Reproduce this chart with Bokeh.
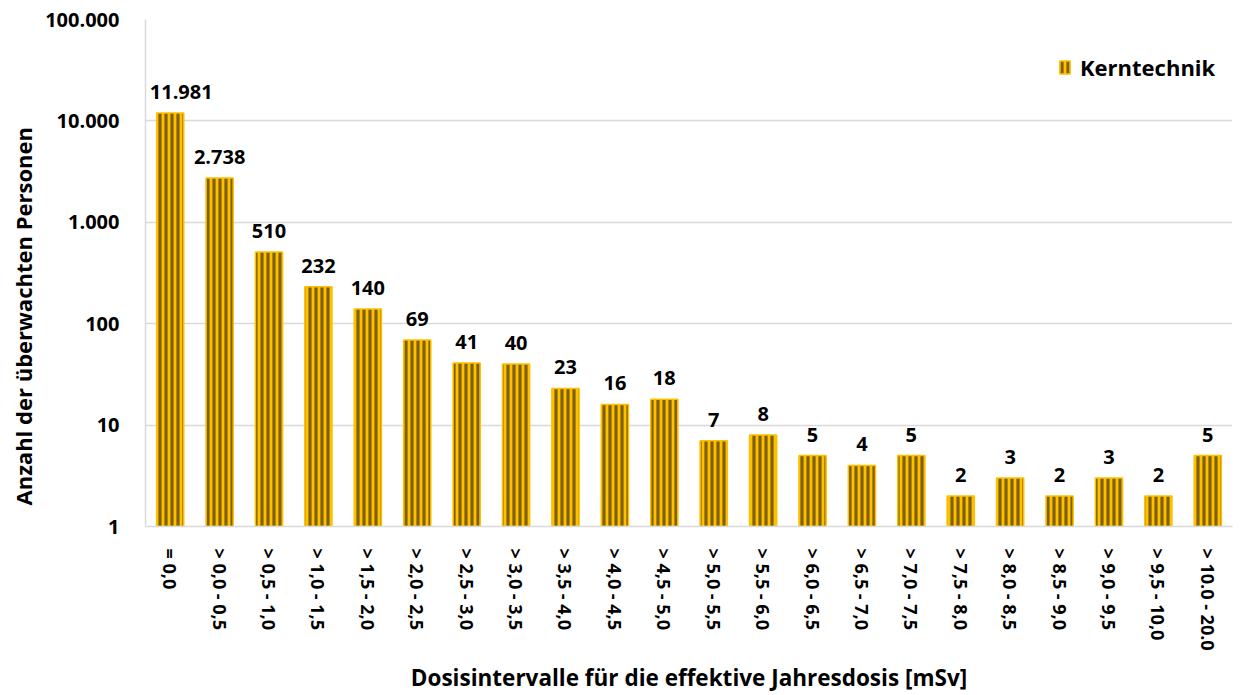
from bokeh.plotting import figure
from bokeh.models import ColumnDataSource, FixedTicker, CustomJSTickFormatter, Legend, LegendItem, Title
from bokeh.core.properties import value
from bokeh.embed import file_html
from bokeh.resources import INLINE

categories = ["= 0,0", "> 0,0 - 0,5", "> 0,5 - 1,0", "> 1,0 - 1,5", "> 1,5 - 2,0",
              "> 2,0 - 2,5", "> 2,5 - 3,0", "> 3,0 - 3,5", "> 3,5 - 4,0", "> 4,0 - 4,5",
              "> 4,5 - 5,0", "> 5,0 - 5,5", "> 5,5 - 6,0", "> 6,0 - 6,5", "> 6,5 - 7,0",
              "> 7,0 - 7,5", "> 7,5 - 8,0", "> 8,0 - 8,5", "> 8,5 - 9,0", "> 9,0 - 9,5",
              "> 9,5 - 10,0", "> 10.0 - 20.0"]
values = [11981, 2738, 510, 232, 140, 69, 41, 40, 23, 16, 18, 7, 8, 5, 4, 5, 2, 3, 2, 3, 2, 5]
value_labels = ["11.981", "2.738", "510", "232", "140", "69", "41", "40", "23", "16", "18",
                "7", "8", "5", "4", "5", "2", "3", "2", "3", "2", "5"]
y_ticks = [1, 10, 100, 1000, 10000, 100000]
series_name = "Kerntechnik"
y_title = "Anzahl der überwachten Personen"
x_title = "Dosisintervalle für die effektive Jahresdosis [mSv]"

FONT = "Open Sans"

# first label is nudged right so it stays inside the plot area (as in the original)
label_shift = [11] + [0] * (len(values) - 1)

src = ColumnDataSource(dict(cat=categories, val=values, lab=value_labels,
                            bottom=[1] * len(values), dx=label_shift))

p = figure(width=1238, height=695, x_range=categories, y_range=(1, 100000),
           y_axis_type="log", output_backend="svg", toolbar_location=None,
           min_border_left=145, min_border_right=6, min_border_top=19, min_border_bottom=169)
p.outline_line_color = None

r = p.vbar(x="cat", top="val", bottom="bottom", width=0.55, source=src,
           fill_color="#FFC000", line_color="#FFC000", line_width=1.5,
           hatch_pattern="|", hatch_color="#7F6000", hatch_scale=6, hatch_weight=3.2)

p.text(x="cat", y="val", text="lab", source=src, text_align="center", text_baseline="bottom",
       x_offset="dx", y_offset=-14, text_font=value(FONT), text_font_style="bold",
       text_font_size="20px", text_color="#000000")

p.yaxis.ticker = FixedTicker(ticks=y_ticks)
p.yaxis.formatter = CustomJSTickFormatter(code="""
return Math.round(tick).toString().replace(/\\B(?=(\\d{3})+(?!\\d))/g, '.');
""")
p.yaxis.minor_tick_line_color = None
p.yaxis.major_tick_line_color = None
p.yaxis.axis_line_color = "#D9D9D9"
p.yaxis.axis_line_width = 1.5
p.yaxis.major_label_text_font = FONT
p.yaxis.major_label_text_font_style = "bold"
p.yaxis.major_label_text_font_size = "20px"
p.yaxis.major_label_text_color = "#000000"
p.yaxis.major_label_standoff = 20

ytitle = Title(text=y_title, align="left", offset=21, standoff=10,
               text_font=FONT, text_font_style="bold", text_font_size="22px",
               text_color="#000000")
p.add_layout(ytitle, "left")

p.xaxis.major_tick_line_color = None
p.xaxis.minor_tick_line_color = None
p.xaxis.axis_line_color = "#D9D9D9"
p.xaxis.axis_line_width = 1.5
p.xaxis.major_label_orientation = "vertical"
p.xaxis.major_label_text_font = FONT
p.xaxis.major_label_text_font_style = "bold"
p.xaxis.major_label_text_font_size = "18px"
p.xaxis.major_label_text_color = "#000000"
p.xaxis.major_label_standoff = 16
p.xaxis.axis_label = x_title
p.xaxis.axis_label_text_font = FONT
p.xaxis.axis_label_text_font_style = "bold"
p.xaxis.axis_label_text_font_size = "22.5px"
p.xaxis.axis_label_text_color = "#000000"
p.xaxis.axis_label_standoff = 8

p.xgrid.grid_line_color = None
p.ygrid.grid_line_color = "#D9D9D9"
p.ygrid.grid_line_width = 1.5
p.x_range.range_padding = 0

legend = Legend(items=[LegendItem(label=series_name, renderers=[r])], location=(913, 444),
                border_line_color=None, background_fill_alpha=0,
                label_text_font=FONT, label_text_font_style="bold", label_text_font_size="22px",
                label_text_color="#000000", glyph_width=13, glyph_height=16,
                margin=0, padding=0, label_standoff=9)
p.add_layout(legend)

open("out.html", "w").write(file_html(p, INLINE))
